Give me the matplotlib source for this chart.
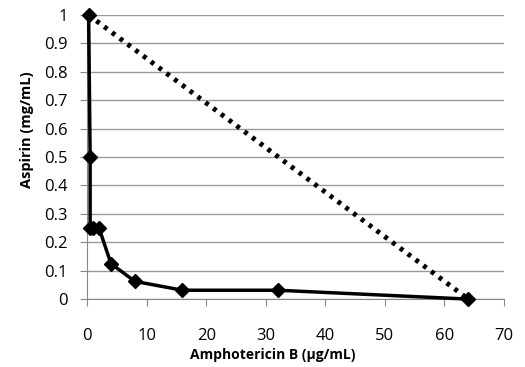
import matplotlib

matplotlib.use("Agg")

import matplotlib.pyplot as plt

# combination points (isobologram)
ampho = [0.25, 0.5, 0.5, 1, 2, 4, 8, 16, 32, 64]
aspirin = [1, 0.5, 0.25, 0.25, 0.25, 0.125, 0.0625, 0.03125, 0.03125, 0]

# additivity line
add_x = [0.25, 64]
add_y = [1, 0]

x_ticks = [0, 10, 20, 30, 40, 50, 60, 70]
y_ticks = [0, 0.1, 0.2, 0.3, 0.4, 0.5, 0.6, 0.7, 0.8, 0.9, 1]

plt.rcParams["font.family"] = ["Open Sans", "DejaVu Sans"]

fig = plt.figure(figsize=(5.25, 3.67), dpi=100)
ax = fig.add_axes([0.166, 0.185, 0.794, 0.774])

ax.plot(add_x, add_y, color="black", linewidth=3.5, linestyle=(0, (0.8, 1.2)), zorder=3)
ax.plot(ampho, aspirin, color="black", linewidth=2.5, marker="D", markersize=7.5,
        zorder=4, clip_on=False)

ax.set_xlim(0, 70)
ax.set_ylim(0, 1)
ax.set_xticks(x_ticks)
ax.set_yticks(y_ticks)
ax.set_yticklabels([f"{v:g}" for v in y_ticks])
ax.tick_params(axis="both", labelsize=12, length=5, color="#888888", direction="out")
ax.tick_params(axis="x", pad=16)
ax.tick_params(axis="y", pad=9)
ax.grid(axis="y", color="#999999", linewidth=1)
ax.set_axisbelow(True)
for side in ["top", "right"]:
    ax.spines[side].set_visible(False)
for side in ["left", "bottom"]:
    ax.spines[side].set_color("#888888")

ax.set_xlabel("Amphotericin B (µg/mL)", fontsize=10, fontweight="bold", va="center")
ax.set_ylabel("Aspirin (mg/mL)", fontsize=10.5, fontweight="bold", va="center")
ax.xaxis.set_label_coords(0.444, -0.197)
ax.yaxis.set_label_coords(-0.144, 0.595)

fig.savefig("out.png", dpi=100)
plt.close(fig)
